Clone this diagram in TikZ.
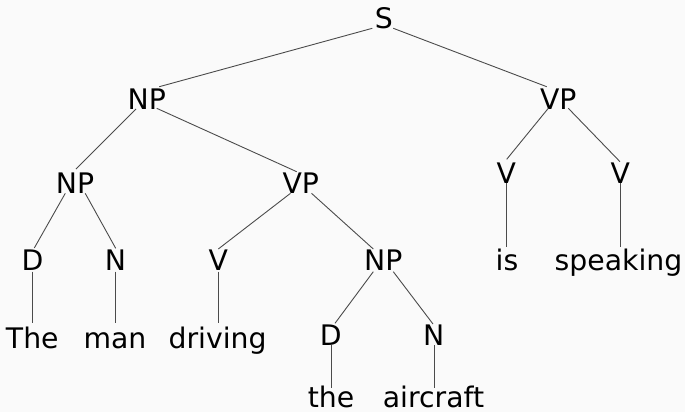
\documentclass[tikz,border=0pt]{standalone}
\usepackage{fontspec}
\setmainfont{DejaVu Sans}
\usetikzlibrary{calc}
\definecolor{bgc}{RGB}{250,250,250}
\definecolor{edgec}{RGB}{75,75,75}
\newcommand\treeedge[4]{\draw[treeline] ($(#1.base)+(#2)$) -- ($(#3.base)+(#4)$);}
\begin{document}
\begin{tikzpicture}[x=1pt,y=-1pt,
  lab/.style={anchor=base,inner sep=0pt,outer sep=0pt,text=black,text depth=0pt,font=\fontsize{28.3}{34}\selectfont},
  treeline/.style={draw=edgec,line width=0.9pt}]
\fill[bgc] (0,0) rectangle (685,412);
\useasboundingbox (0,0) rectangle (685,412);
% labels
\node[lab] (S)    at (383.8,29)   {S};
\node[lab] (NPa)  at (146.7,109)  {NP};
\node[lab] (VPa)  at (558.3,109)  {VP};
\node[lab] (NPb)  at (75,193.3)   {NP};
\node[lab] (VPb)  at (300.8,193.3){VP};
\node[lab] (Va)   at (506.3,183.3){V};
\node[lab] (Vb)   at (620.2,183.3){V};
\node[lab] (Da)   at (32.5,270.5) {D};
\node[lab] (Na)   at (115.5,270.5){N};
\node[lab] (Vc)   at (218.3,270.5){V};
\node[lab] (NPc)  at (383.3,270.5){NP};
\node[lab] (is)   at (507,270.5)  {is};
\node[lab] (spk)  at (618.5,270.5){speaking};
\node[lab] (The)  at (32.3,348.3) {The};
\node[lab] (man)  at (115,348.3)  {man};
\node[lab] (drv)  at (217.6,348.3){driving};
\node[lab] (Db)   at (330.8,345)  {D};
\node[lab] (Nb)   at (433.8,345)  {N};
\node[lab] (the)  at (331,407.5)  {the};
\node[lab] (air)  at (433.5,407.5){aircraft};
% edges
\treeedge{S}{-11.5,-0.7}{NPa}{12.6,-22.3}
\treeedge{S}{9.5,-0.7}{VPa}{-11.6,-22.3}
\treeedge{NPa}{-10.7,0}{NPb}{1,-24.3}
\treeedge{NPa}{10,-0.7}{VPb}{-4.1,-21.6}
\treeedge{VPa}{-10,-0.7}{Va}{0.4,-24}
\treeedge{VPa}{10,-0.7}{Vb}{-0.2,-21.6}
\treeedge{Va}{0.2,0}{is}{-0.5,-23.8}
\treeedge{Vb}{0.1,0}{spk}{1.8,-23.8}
\treeedge{NPb}{-9.7,0}{Da}{1.8,-22.5}
\treeedge{NPb}{10.2,0}{Na}{0.2,-22.2}
\treeedge{VPb}{-10.3,0}{Vc}{0,-21.5}
\treeedge{VPb}{10.7,0}{NPc}{-10,-21.5}
\treeedge{NPc}{-10,1.2}{Db}{4.2,-21.7}
\treeedge{NPc}{10,1.2}{Nb}{-0.8,-21}
\treeedge{Da}{0.3,1.2}{The}{0.5,-25}
\treeedge{Na}{0,1.2}{man}{0.5,-25}
\treeedge{Vc}{0,1.2}{drv}{0.7,-25}
\treeedge{Db}{1,0}{the}{0.8,-20}
\treeedge{Nb}{1,0}{air}{1.3,-20}
\end{tikzpicture}
\end{document}
